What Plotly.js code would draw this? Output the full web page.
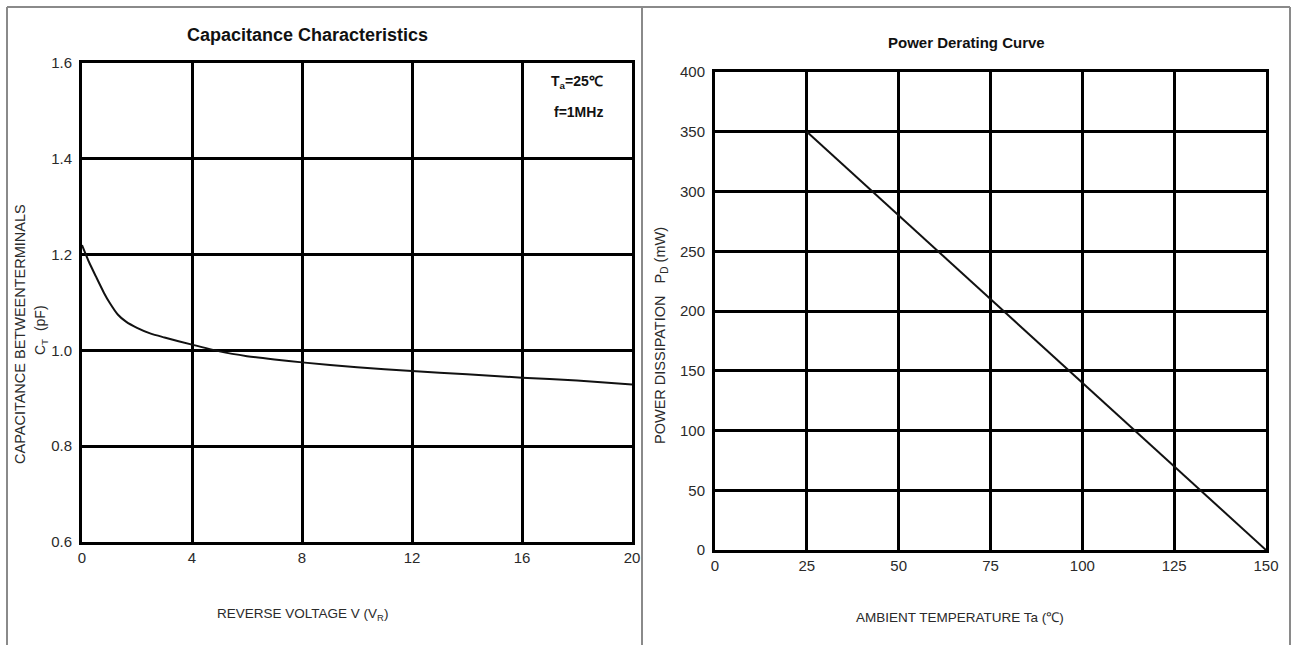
<!DOCTYPE html>
<html>
<head>
<meta charset="utf-8">
<script src="https://cdn.plot.ly/plotly-3.0.1.min.js"></script>
<style>html,body{margin:0;padding:0;background:#fff;}#chart{width:1293px;height:645px;}</style>
</head>
<body>
<div id="chart"></div>
<script>
// Capacitance characteristics (reverse voltage V, capacitance pF)
const capVoltage = [0, 0.25, 0.5, 0.8, 1.0, 1.3, 1.6, 2.0, 2.5, 3.0, 4.0, 5.0, 6.0, 7.0, 8.0, 10.0, 12.0, 14.0, 16.0, 18.0, 20.0];
const capValue   = [1.22, 1.185, 1.155, 1.12, 1.10, 1.075, 1.06, 1.047, 1.035, 1.027, 1.012, 0.998, 0.988, 0.981, 0.975, 0.965, 0.957, 0.950, 0.943, 0.937, 0.929];
const capXTicks = [0, 4, 8, 12, 16, 20];
const capYTicks = [0.6, 0.8, 1.0, 1.2, 1.4, 1.6];

// Power derating curve (ambient temperature, power dissipation mW)
const tempValues  = [25, 150];
const powerValues = [350, 0];
const tempTicks  = [0, 25, 50, 75, 100, 125, 150];
const powerTicks = [0, 50, 100, 150, 200, 250, 300, 350, 400];

const W = 1293, H = 645;
const px = x => x / W;
const py = y => (H - y) / H;

const FONT = "Liberation Sans, Arial, sans-serif";
const tickFont = {family: FONT, size: 15, color: "#2a2a2a"};

const traces = [
  {x: capVoltage, y: capValue, xaxis: "x", yaxis: "y", mode: "lines", line: {color: "#111", width: 2, shape: "spline", smoothing: 0.6}, hoverinfo: "x+y", showlegend: false},
  {x: tempValues, y: powerValues, xaxis: "x2", yaxis: "y2", mode: "lines", line: {color: "#111", width: 2}, hoverinfo: "x+y", showlegend: false}
];

const axisCommon = {
  showgrid: true, gridcolor: "#000", gridwidth: 3,
  showline: true, linecolor: "#000", linewidth: 3, mirror: true,
  zeroline: false, ticks: "", tickfont: tickFont, fixedrange: true
};

function ann(text, x, y, size, opts) {
  return Object.assign({text: text, xref: "paper", yref: "paper", x: px(x), y: py(y),
    xanchor: "center", yanchor: "middle", showarrow: false,
    font: {family: FONT, size: size, color: "#2a2a2a"}}, opts || {});
}

const layout = {
  width: W, height: H,
  margin: {l: 0, r: 0, t: 0, b: 0},
  paper_bgcolor: "#fff", plot_bgcolor: "#fff",
  showlegend: false,
  xaxis: Object.assign({}, axisCommon, {domain: [px(82), px(632)], range: [0, 20], tickvals: capXTicks, ticktext: capXTicks.map(String), anchor: "y"}),
  yaxis: Object.assign({}, axisCommon, {domain: [py(542), py(63)], range: [0.6, 1.6], tickvals: capYTicks, ticktext: capYTicks.map(v => v.toFixed(1)), anchor: "x", ticklabelstandoff: 4}),
  xaxis2: Object.assign({}, axisCommon, {domain: [px(715), px(1266)], range: [0, 150], tickvals: tempTicks, ticktext: tempTicks.map(String), anchor: "y2"}),
  yaxis2: Object.assign({}, axisCommon, {domain: [py(550), py(72)], range: [0, 400], tickvals: powerTicks, ticktext: powerTicks.map(String), anchor: "x2", ticklabelstandoff: 4}),
  shapes: [
    {type: "line", xref: "paper", yref: "paper", x0: px(7), x1: px(7), y0: 0, y1: py(7), line: {color: "#8a8a8a", width: 2}},
    {type: "line", xref: "paper", yref: "paper", x0: px(7), x1: px(1290), y0: py(7), y1: py(7), line: {color: "#8a8a8a", width: 2}},
    {type: "line", xref: "paper", yref: "paper", x0: px(642), x1: px(642), y0: 0, y1: py(7), line: {color: "#8a8a8a", width: 2}},
    {type: "line", xref: "paper", yref: "paper", x0: px(1290), x1: px(1290), y0: 0, y1: py(7), line: {color: "#8a8a8a", width: 2}}
  ],
  annotations: [
    ann("<b>Capacitance Characteristics</b>", 307, 35, 18, {font: {family: FONT, size: 18, color: "#111"}}),
    ann("<b>Power Derating Curve</b>", 967, 42, 15, {font: {family: FONT, size: 15, color: "#111"}}),
    ann("<b>T<sub>a</sub>=25℃</b>", 577, 82, 14, {font: {family: FONT, size: 14, color: "#111"}}),
    ann("<b>f=1MHz</b>", 578, 112, 14, {font: {family: FONT, size: 14, color: "#111"}}),
    ann("CAPACITANCE BETWEENTERMINALS", 20, 334, 14.5, {textangle: -90}),
    ann("C<sub>T</sub>  (pF)", 41, 330, 14, {textangle: -90}),
    ann("REVERSE VOLTAGE V (V<sub>R</sub>)", 302, 614, 13.5),
    ann("POWER DISSIPATION   P<sub>D</sub> (mW)", 661, 336, 14.5, {textangle: -90}),
    ann("AMBIENT TEMPERATURE Ta (℃)", 960, 617, 13.5)
  ]
};

Plotly.newPlot("chart", traces, layout, {displayModeBar: false, staticPlot: true});
</script>
</body>
</html>
